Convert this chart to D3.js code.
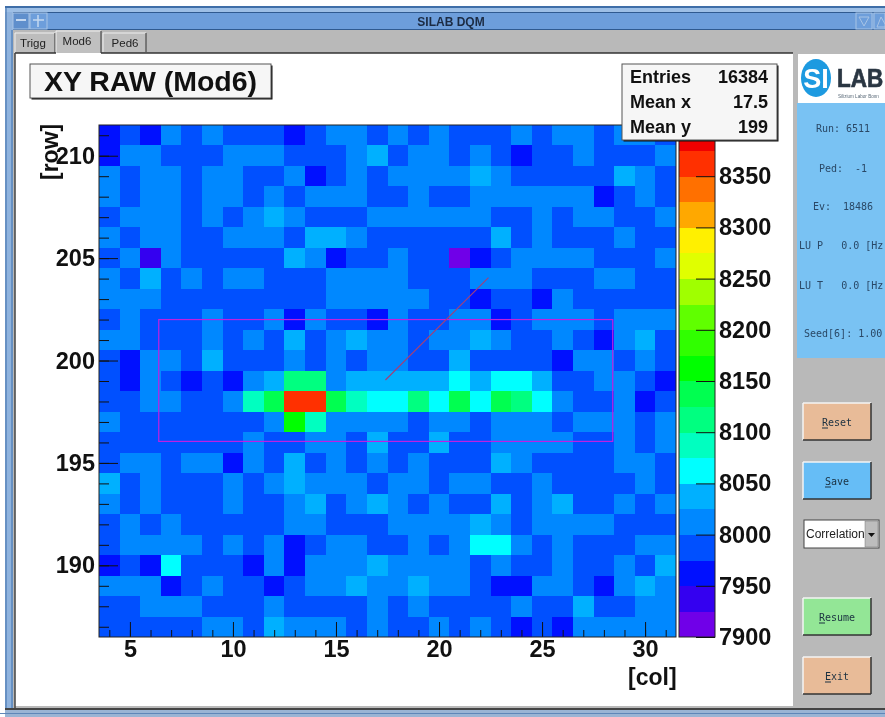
<!DOCTYPE html>
<html><head><meta charset="utf-8"><title>SILAB DQM</title>
<script src="https://cdn.jsdelivr.net/npm/d3@7"></script>
<style>html,body{margin:0;padding:0;background:#fff;overflow:hidden}svg{display:block;filter:blur(0.4px)}text{font-family:"Liberation Sans",Arial,sans-serif}</style>
</head><body><div id="chart"></div>
<script>
const cols = d3.range(4, 32);
const rows = d3.range(211, 186, -1);
const row211 = [7962,7987,7962,8012,7987,8012,7987,7987,7987,7962,7987,8012,8012,7987,8012,7987,8012,7987,7987,7987,8012,7987,8012,8012,7987,8012,8012,7987];
const row210 = [7962,8012,8012,7987,7987,7987,8012,8012,8012,7987,7987,7987,8012,8037,7987,8012,8012,7987,8012,7987,7962,7987,7987,8012,7987,7987,7987,8012];
const row209 = [8012,7987,8012,8012,7987,8012,8012,7987,7987,8012,7962,7987,8012,7987,8012,8012,8012,8012,8037,8012,7987,7987,7987,7987,7987,8037,8012,7987];
const row208 = [8012,7987,8012,8012,7987,8012,8012,7987,8012,7987,8012,8012,8012,7987,7987,8012,7987,7987,8012,8012,8012,8012,8012,8012,7962,7987,8012,7987];
const row207 = [7987,8012,8012,8012,7987,8012,7987,8012,8037,8012,7987,7987,7987,8012,8012,8012,8012,8012,8012,7987,7987,8012,7987,8012,8012,7987,7987,8012];
const row206 = [8012,7987,8012,8012,7987,7987,8012,8012,8012,7987,8037,8037,8012,7987,7987,7987,7987,7987,7987,8037,7987,8012,7987,7987,7987,8012,7987,7987];
const row205 = [7987,8012,7937,8012,7987,7987,7987,7987,7987,8037,8012,7962,7987,7987,8012,7987,7987,7912,7962,7987,8012,8012,8012,8012,7987,7987,7987,8012];
const row204 = [8012,7987,8037,7987,8012,7987,8012,8012,7987,7987,7987,8012,8012,8012,8012,7987,7987,7987,8012,8012,8012,7987,7987,7987,8012,8012,7987,7987];
const row203 = [8012,8012,8012,7987,7987,7987,7987,7987,7987,7987,7987,8012,8012,8012,8012,8012,7987,7987,7962,7987,7987,7962,8012,7987,7987,7987,7987,7987];
const row202 = [7987,8012,7987,7987,7987,8012,7987,7987,8012,7962,8012,7987,7987,7962,8012,7987,7987,8012,8012,7962,7987,8012,8012,8012,7987,8012,8012,8012];
const row201 = [8012,8012,7987,7987,7987,8012,7987,8012,7987,8037,7987,8012,8037,8012,8012,7987,8012,8012,8037,8012,7987,7987,8012,7987,7962,8012,8037,7987];
const row200 = [7987,7962,8012,8012,7987,8037,7987,7987,7987,8012,7987,8012,7987,8012,8012,7987,7987,8037,7987,7987,7987,7987,7962,8012,8012,7987,8012,7987];
const row199 = [7987,7962,8012,7987,7962,7987,7962,8012,8037,8112,8112,8012,8037,8037,8037,8037,8037,8062,8037,8062,8062,8037,7987,7987,8012,8012,7987,7962];
const row198 = [7987,7987,8012,8012,7987,7987,8012,8087,8137,8362,8362,8137,8087,8062,8062,8112,8062,8137,8062,8137,8112,8062,8012,7987,7987,8012,7962,7987];
const row197 = [8012,7987,7987,7987,7987,7987,7987,7987,8012,8162,8087,8012,8012,8012,8012,7987,8012,8012,7987,8012,8012,8012,7987,8012,8012,8012,7987,8012];
const row196 = [7987,7987,7987,7987,7987,7987,7987,8012,7987,7987,8012,8012,7987,8037,7987,7987,8037,7987,7987,8012,8012,8012,8012,7987,7987,8012,7987,8012];
const row195 = [7987,8012,8012,7987,8012,8012,7962,8012,7987,8037,7987,8012,7987,8012,7987,8012,7987,7987,7987,8037,8012,7987,7987,7987,7987,8012,8012,7987];
const row194 = [8037,7987,8012,7987,7987,7987,8012,7987,8012,8037,8012,8012,8012,7987,8012,8012,7987,8012,8012,7987,7987,8012,7987,7987,7987,7987,8012,7987];
const row193 = [8012,7987,8012,7987,7987,7987,8012,7987,7987,8012,8037,7987,8012,8037,8012,7987,8012,7987,7987,8037,7987,8012,8037,7987,7987,8012,7987,8012];
const row192 = [7987,8012,7987,8012,7987,7987,7987,7987,7987,8012,8012,7987,7987,7987,8012,8012,8012,8012,8037,8012,7987,8012,8012,8012,8012,7987,7987,7987];
const row191 = [7987,8012,8012,8012,8012,7987,8012,7987,8012,7962,7987,8012,8012,7987,7987,8012,7987,8012,8062,8062,8012,7987,8012,7987,7987,7987,8012,8012];
const row190 = [7962,7987,7962,8062,7987,7987,7987,7962,8012,7962,8012,8012,8012,8037,8012,8012,8012,8012,7987,8012,7987,7987,8012,7987,7987,8012,7987,8037];
const row189 = [8012,8012,8012,7962,7987,8012,7987,7987,7962,7987,8012,8012,8037,8012,8012,8037,8012,8012,7987,7962,7962,8012,8012,7987,7962,8012,8037,8012];
const row188 = [7987,7987,8012,8012,8012,7987,7987,7987,8012,7987,7987,7987,7987,8012,7987,8012,7987,7987,7987,7987,8012,7987,7987,8037,7987,7987,8012,8012];
const row187 = [7987,7987,7987,7987,7987,8012,8012,7987,8037,8012,8012,8012,7987,8012,7987,7987,8012,7987,8012,7987,7962,7987,7962,8012,8012,8012,8012,8012];
const matrix = [row211,row210,row209,row208,row207,row206,row205,row204,row203,row202,row201,row200,row199,row198,row197,row196,row195,row194,row193,row192,row191,row190,row189,row188,row187];

const levelEdges = d3.range(7925, 8400, 25);
const palette = ["#7000e8","#3400f0","#0010ff","#0050ff","#0088ff","#00b0ff","#00ffff","#00ffc0","#00ff80","#00ff50","#00ff00","#30ff00","#60ff00","#a0ff00","#e0ff00","#fff000","#ffa800","#ff7000","#ff3000","#f00000"];
const xTicks = [5,10,15,20,25,30];
const yTicks = [190,195,200,205,210];
const zTicks = [7900,7950,8000,8050,8100,8150,8200,8250,8300,8350];
const statNames = ["Entries","Mean x","Mean y"];
const statValues = ["16384","17.5","199"];
const tabs = ["Trigg","Mod6","Ped6"];
const infoLabels = ["Run: 6511","Ped:  -1","Ev:  18486"];
const rateLabels = ["LU P   0.0 [Hz","LU T   0.0 [Hz"];
const seedLabel = "Seed[6]: 1.00";
const buttons = [{t:"Reset",c:"#e8bb98"},{t:"Save",c:"#66bdf6"},{t:"Resume",c:"#93e696"},{t:"Exit",c:"#e8bb98"}];
const roi = {x0:6.4, x1:28.43, y0:196.05, y1:202};
const arrow = {x0:17.4, y0:199.05, x1:22.4, y1:204.05};

const W=885,H=717;
const svg=d3.select("#chart").append("svg").attr("width",W).attr("height",H);
const rect=(g,x,y,w,h,f,s,sw)=>g.append("rect").attr("x",x).attr("y",y).attr("width",w).attr("height",h).attr("fill",f).attr("stroke",s||"none").attr("stroke-width",sw||0);
const line=(g,x1,y1,x2,y2,s,sw)=>g.append("line").attr("x1",x1).attr("y1",y1).attr("x2",x2).attr("y2",y2).attr("stroke",s).attr("stroke-width",sw||1);

// window chrome
const ch=svg.append("g");
rect(ch,5,6,880,711,"#b9b9b9");
rect(ch,5,6,880,2,"#3f6ea8");
rect(ch,5,8,880,4,"#9dbfe6");
rect(ch,5,12,880,1,"#2f5a90");
rect(ch,13,13,872,17,"#6d9edb");
rect(ch,5,29,880,1,"#2f5a90");
rect(ch,5,12,8,705,"#8fb3de");
line(ch,6,8,6,717,"#3f6ea8",1); line(ch,12,30,12,708,"#3f6ea8",1);
rect(ch,13,13,16,16,"#5f8fcc","#a8c4e6",1); line(ch,16,20,26,20,"#c4d8f0",2);
rect(ch,30,13,17,16,"#6d9edb","#a8c4e6",1); line(ch,33,20,44,20,"#c4d8f0",1.5); line(ch,38,15,38,27,"#c4d8f0",1.5);
ch.append("text").attr("x",451).attr("y",26).attr("text-anchor","middle").attr("font-size",12).attr("font-weight","bold").attr("fill","#1c2c44").text("SILAB DQM");
rect(ch,856,13,16,16,"#6d9edb","#a8c4e6",1);
ch.append("path").attr("d","M859 17H869L864 26Z").attr("fill","none").attr("stroke","#a8c4e6");
rect(ch,874,13,11,16,"#6d9edb","#a8c4e6",1);
ch.append("path").attr("d","M877 27L885 27M881 17L877 27M881 17L885 24").attr("fill","none").attr("stroke","#a8c4e6");
rect(ch,5,710,880,7,"#9ab4d4"); rect(ch,5,708,880,2,"#444"); rect(ch,0,713,885,1,"#5f86b8");

// tabs
const tabBox=[[15,33,40,20],[56,31,45,23],[103,33,43,19]];
const tabTextX=[33,77,125],tabTextY=[47,45,47];
tabs.forEach((t,i)=>{const b=tabBox[i];
  rect(ch,b[0],b[1],b[2],b[3],i==1?"#c0c0c0":"#bdbdbd");
  line(ch,b[0],b[1],b[0],b[1]+b[3],"#f0f0f0"); line(ch,b[0],b[1],b[0]+b[2],b[1],"#f0f0f0");
  line(ch,b[0]+b[2],b[1],b[0]+b[2],b[1]+b[3],"#333");
  ch.append("text").attr("x",tabTextX[i]).attr("y",tabTextY[i]).attr("text-anchor","middle").attr("font-size",11.5).attr("fill","#222").text(t);
});
rect(ch,15,53,778,653,"#ffffff");
line(ch,15,53,56,53,"#333",1.5); line(ch,101,53,793,53,"#333",1.5); line(ch,15,53,15,708,"#444",1.5);

// plot
const plotL=99,plotR=676,plotT=125,plotB=637;
const x=d3.scaleLinear().domain([3.5,31.5]).range([plotL,plotR]);
const y=d3.scaleLinear().domain([186.5,211.5]).range([plotB,plotT]);
const z=d3.scaleThreshold().domain(levelEdges).range(palette);
const cells=matrix.flatMap((r,i)=>r.map((v,j)=>({col:cols[j],row:rows[i],v})));
svg.append("g").selectAll("rect").data(cells).join("rect")
  .attr("x",d=>x(d.col-.5)).attr("y",d=>y(d.row+.5))
  .attr("width",x(1)-x(0)+.4).attr("height",y(0)-y(1)+.4)
  .attr("fill",d=>z(d.v)).attr("shape-rendering","crispEdges");

const labelStyle=g=>{g.selectAll("text").attr("font-size",23.5).attr("font-weight","bold").attr("fill","#111");g.select(".domain").remove();g.selectAll("line").attr("stroke","#111");};
svg.append("g").attr("transform",`translate(${plotL},0)`).call(d3.axisLeft(y).tickValues(rows).tickSize(-10).tickFormat("")).call(labelStyle);
svg.append("g").attr("transform",`translate(${plotL},0)`).call(d3.axisLeft(y).tickValues(yTicks).tickSize(-19).tickPadding(4).tickFormat(d3.format("d"))).call(labelStyle);
svg.append("g").attr("transform",`translate(0,${plotB})`).call(d3.axisBottom(x).tickValues(cols).tickSize(-7).tickFormat("")).call(labelStyle);
svg.append("g").attr("transform",`translate(0,${plotB})`).call(d3.axisBottom(x).tickValues(xTicks).tickSize(-15).tickPadding(3).tickFormat(d3.format("d"))).call(labelStyle);
rect(svg,plotL,plotT,plotR-plotL,plotB-plotT,"none","#222",1);

// ROI and arrow
rect(svg,x(roi.x0),y(roi.y1),x(roi.x1)-x(roi.x0),y(roi.y0)-y(roi.y1),"none","#c020e0",1.2);
line(svg,x(arrow.x0),y(arrow.y0),x(arrow.x1),y(arrow.y1),"#a0407c",1.2);

// colour bar
const barL=679,barR=715;
const zs=d3.scaleLinear().domain([7900,8400]).range([plotB,plotT]);
svg.append("g").selectAll("rect").data(palette).join("rect")
  .attr("x",barL).attr("width",barR-barL)
  .attr("y",(d,i)=>zs(7925+25*i)).attr("height",(d,i)=>zs(7900+25*i)-zs(7925+25*i)+.4)
  .attr("fill",d=>d).attr("shape-rendering","crispEdges");
rect(svg,barL,plotT,barR-barL,plotB-plotT,"none","#222",1);
svg.append("g").attr("transform",`translate(${barR},0)`).call(d3.axisRight(zs).tickValues(zTicks).tickSize(-19).tickPadding(4).tickFormat(d3.format("d"))).call(labelStyle);

// axis titles
svg.append("text").attr("x",628).attr("y",685).attr("font-size",23).attr("font-weight","bold").attr("fill","#111").text("[col]");
svg.append("text").attr("transform","translate(58,180) rotate(-90)").attr("font-size",23).attr("font-weight","bold").attr("fill","#111").text("[row]");

// title box
const shadowBox=(g,bx,by,bw,bh)=>{rect(g,bx+1.5,by+1.5,bw,bh,"#111");rect(g,bx,by,bw,bh,"#f6f6f6","#555",1);};
shadowBox(svg,30,64,241,34);
svg.append("text").attr("x",150.5).attr("y",91).attr("text-anchor","middle").attr("font-size",28.5).attr("font-weight","bold").attr("fill","#111").text("XY RAW (Mod6)");

// stats box
shadowBox(svg,622,64,155,76);
statNames.forEach((n,i)=>{
  svg.append("text").attr("x",630).attr("y",83+25*i).attr("font-size",18).attr("font-weight","bold").attr("fill","#111").text(n);
  svg.append("text").attr("x",768).attr("y",83+25*i).attr("text-anchor","end").attr("font-size",18).attr("font-weight","bold").attr("fill","#111").text(statValues[i]);
});

// right panel
rect(svg,798,54,87,49,"#ffffff");
rect(svg,797,103,88,255,"#79c2f3");
svg.append("ellipse").attr("cx",816).attr("cy",78).attr("rx",15).attr("ry",19).attr("fill","#1d9ae0");
svg.append("text").attr("x",816).attr("y",88).attr("text-anchor","middle").attr("font-size",27).attr("font-weight","bold").attr("fill","#fff").text("SI");
svg.append("text").attr("transform","translate(837,87) scale(1,1.17)").attr("font-size",22.5).attr("font-weight","bold").attr("fill","#2a3642").attr("stroke","#2a3642").attr("stroke-width",.6).text("LAB");
svg.append("text").attr("x",838).attr("y",97.5).attr("font-size",4.6).attr("fill","#5a6a78").text("Silizium Labor Bonn");
const mono=(t,px,py,anchor)=>svg.append("text").attr("x",px).attr("y",py).attr("text-anchor",anchor||"start").style("white-space","pre").style("font-family","'DejaVu Sans Mono',monospace").attr("font-size",10).attr("fill","#2a4866").text(t);
const infoY=[132,172,210];
infoLabels.forEach((t,i)=>mono(t,843,infoY[i],"middle"));
rateLabels.forEach((t,i)=>mono(t,799,249+40*i));
mono(seedLabel,804,337);

const btnY=[403,462,598,657];
buttons.forEach((b,i)=>{
  rect(svg,803,btnY[i],68,37,b.c);
  line(svg,803,btnY[i],871,btnY[i],"#f4f4f4",1.5); line(svg,803,btnY[i],803,btnY[i]+37,"#f4f4f4",1.5);
  line(svg,803,btnY[i]+37,871,btnY[i]+37,"#333",1.5); line(svg,871,btnY[i],871,btnY[i]+37,"#333",1.5);
  svg.append("text").attr("x",837).attr("y",btnY[i]+23).attr("text-anchor","middle").style("font-family","'DejaVu Sans Mono',monospace").attr("font-size",10).attr("fill","#1a3040").text(b.t);
  const tw=b.t.length*6;
  line(svg,837-tw/2,btnY[i]+25,837-tw/2+6,btnY[i]+25,"#1a3040",1);
});

// dropdown
rect(svg,804,520,75,28,"#ffffff","#444",1);
svg.append("text").attr("x",806).attr("y",538).attr("font-size",12).attr("fill","#222").text("Correlation");
rect(svg,865,521,13,26,"#bdbdbd","#777",.5);
svg.append("path").attr("d","M868 533H875L871.5 537Z").attr("fill","#111");
</script></body></html>
